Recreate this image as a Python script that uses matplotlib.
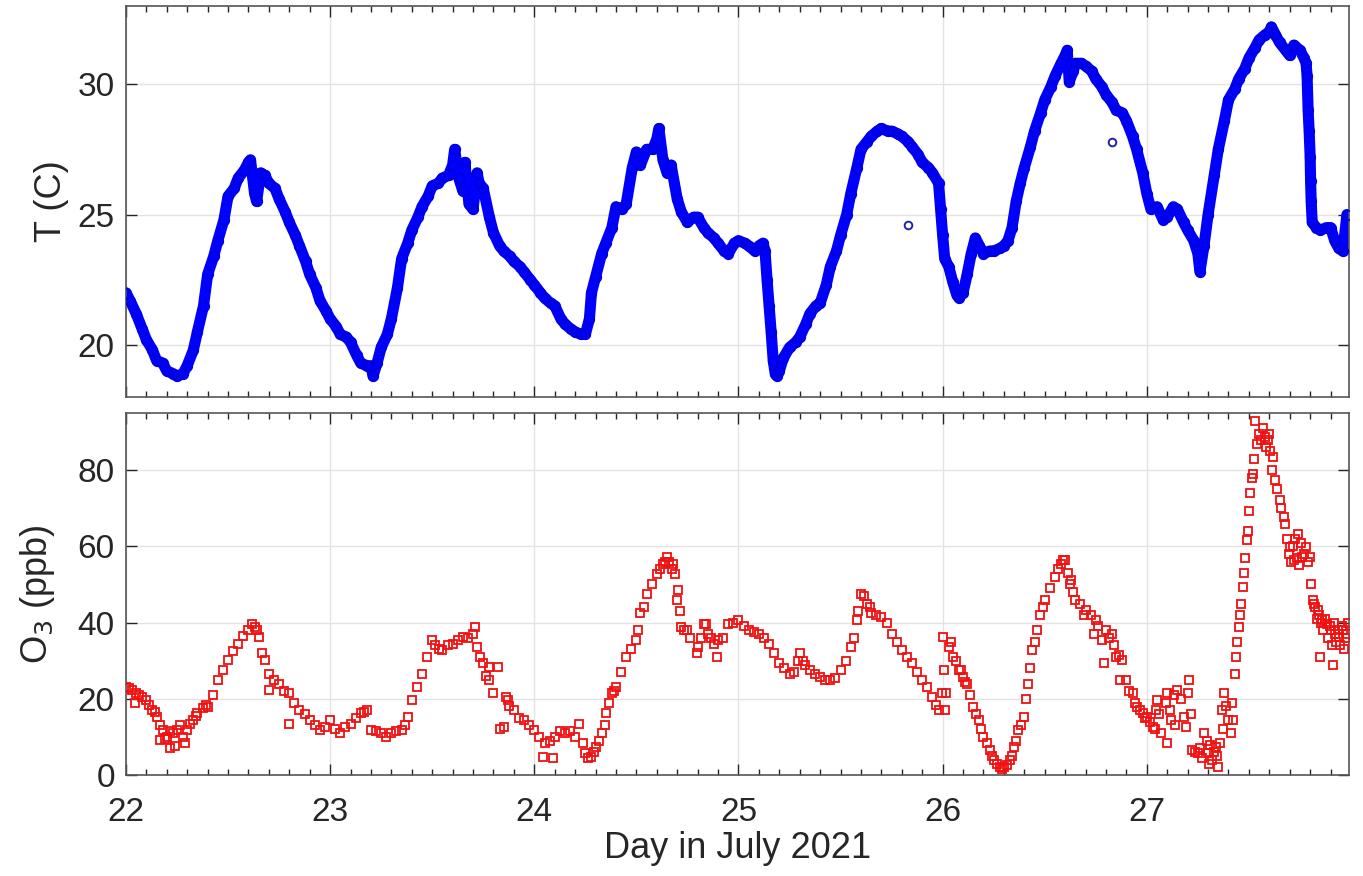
import numpy as np
import matplotlib.pyplot as plt
from matplotlib.ticker import MultipleLocator

# Temperature (C)
t_day = [22.00, 22.02, 22.05, 22.08, 22.10, 22.13, 22.15, 22.18, 22.20, 22.23,
         22.25, 22.28, 22.30, 22.33, 22.35, 22.38, 22.40, 22.43, 22.45, 22.48,
         22.50, 22.53, 22.55, 22.58, 22.60, 22.61, 22.63, 22.64, 22.66, 22.68,
         22.70, 22.73, 22.75, 22.78, 22.80, 22.83, 22.85, 22.88, 22.90, 22.93,
         22.95, 22.98, 23.00, 23.03, 23.05, 23.08, 23.10, 23.13, 23.15, 23.18,
         23.20, 23.21, 23.23, 23.25, 23.28, 23.30, 23.33, 23.35, 23.38, 23.40,
         23.43, 23.45, 23.48, 23.50, 23.53, 23.55, 23.58, 23.60, 23.61, 23.63,
         23.65, 23.66, 23.68, 23.70, 23.72, 23.73, 23.75, 23.78, 23.80, 23.83,
         23.85, 23.88, 23.90, 23.93, 23.95, 23.98,
         24.00, 24.03, 24.05, 24.08, 24.10, 24.13, 24.15, 24.18, 24.20, 24.23,
         24.25, 24.27, 24.28, 24.30, 24.33, 24.35, 24.38, 24.40, 24.43, 24.45,
         24.48, 24.50, 24.52, 24.55, 24.58, 24.60, 24.61, 24.63, 24.65, 24.67,
         24.70, 24.72, 24.75, 24.78, 24.80, 24.83, 24.85, 24.88, 24.90, 24.93,
         24.95, 24.98, 25.00, 25.03, 25.05, 25.08, 25.10, 25.12, 25.13, 25.14,
         25.15, 25.16, 25.17, 25.18, 25.19, 25.20, 25.22, 25.25, 25.28, 25.30,
         25.33, 25.35, 25.38, 25.40, 25.43, 25.45, 25.48, 25.50, 25.53, 25.55,
         25.58, 25.60, 25.63, 25.65, 25.68, 25.70, 25.73, 25.75, 25.78, 25.80,
         25.83, 25.85, 25.88, 25.90, 25.93, 25.95, 25.98, 25.99, 26.00,
         26.01, 26.03, 26.05, 26.07, 26.08, 26.10, 26.12, 26.14, 26.16, 26.18,
         26.20, 26.23, 26.25, 26.28, 26.30, 26.32, 26.34, 26.36, 26.38, 26.40,
         26.43, 26.45, 26.48, 26.50, 26.53, 26.55, 26.58, 26.60, 26.61, 26.62,
         26.64, 26.65, 26.68, 26.70, 26.73, 26.75, 26.78, 26.80, 26.83, 26.85,
         26.88, 26.90, 26.93, 26.95, 26.98, 27.00, 27.02, 27.05, 27.08, 27.10,
         27.13, 27.15, 27.18, 27.20, 27.23, 27.25, 27.26, 27.28, 27.30, 27.33,
         27.35, 27.38, 27.40, 27.43, 27.45, 27.48, 27.50, 27.53, 27.55, 27.58,
         27.60, 27.61, 27.63, 27.65, 27.68, 27.70, 27.72, 27.75, 27.77, 27.78,
         27.785, 27.79, 27.795, 27.80, 27.802, 27.805, 27.81, 27.83, 27.85, 27.88,
         27.90, 27.92, 27.94, 27.96, 27.98]
t_val = [22.0, 21.7, 21.2, 20.6, 20.2, 19.8, 19.4, 19.3, 19.0, 18.9,
         18.8, 18.9, 19.2, 19.8, 20.5, 21.5, 22.7, 23.4, 24.0, 24.8,
         25.7, 26.0, 26.4, 26.7, 27.0, 27.1, 25.8, 25.5, 26.6, 26.5,
         26.2, 26.0, 25.6, 25.1, 24.7, 24.2, 23.8, 23.2, 22.7, 22.2,
         21.7, 21.3, 21.0, 20.7, 20.4, 20.3, 20.1, 19.6, 19.3, 19.2,
         19.2, 18.8, 19.3, 19.9, 20.4, 21.0, 22.2, 23.3, 23.9, 24.4,
         24.9, 25.3, 25.7, 26.1, 26.2, 26.4, 26.5, 26.9, 27.5, 26.4,
         25.9, 27.0, 25.4, 25.2, 26.6, 26.2, 26.0, 24.9, 24.3, 23.8,
         23.6, 23.4, 23.2, 23.0, 22.8, 22.5,
         22.3, 22.0, 21.8, 21.6, 21.5, 21.0, 20.8, 20.6, 20.5, 20.4,
         20.4, 21.0, 22.0, 22.6, 23.5, 23.9, 24.5, 25.3, 25.2, 25.4,
         26.8, 27.4, 26.9, 27.5, 27.5, 27.9, 28.3, 27.1, 26.6, 26.9,
         25.6, 25.1, 24.7, 24.9, 24.9, 24.5, 24.3, 24.1, 23.9, 23.6,
         23.5, 23.9, 24.0, 23.9, 23.8, 23.6, 23.8, 23.9, 23.6, 22.5,
         21.5, 20.5, 19.4, 18.9, 18.8, 19.0, 19.5, 19.9, 20.1, 20.3,
         20.8, 21.2, 21.5, 21.6, 22.3, 23.0, 23.6, 24.2, 25.0, 25.8,
         26.8, 27.5, 27.8, 28.0, 28.2, 28.3, 28.2, 28.2, 28.1, 28.0,
         27.8, 27.6, 27.3, 27.0, 26.8, 26.6, 26.2, 25.2, 24.2,
         23.3, 23.0, 22.4, 21.9, 21.8, 22.0, 22.7, 23.5, 24.1, 23.8,
         23.5, 23.6, 23.6, 23.7, 23.8, 24.0, 24.5, 25.5, 26.2, 26.8,
         27.6, 28.2, 28.9, 29.4, 29.9, 30.3, 30.8, 31.1, 31.3, 30.1,
         30.5, 30.8, 30.8, 30.7, 30.5, 30.2, 29.9, 29.6, 29.3, 29.0,
         28.9, 28.6, 28.0, 27.5, 26.6, 25.8, 25.2, 25.3, 24.8, 24.9,
         25.3, 25.2, 24.7, 24.4, 24.0, 23.5, 22.8, 23.8, 25.0, 26.5,
         27.5, 28.6, 29.4, 29.8, 30.2, 30.6, 31.0, 31.4, 31.7, 31.9,
         32.0, 32.2, 31.9, 31.6, 31.3, 31.1, 31.5, 31.3, 31.0, 30.8,
         30.3, 29.0, 28.2, 27.2, 26.3, 25.5, 24.7, 24.5, 24.4, 24.5,
         24.5, 24.0, 23.7, 23.6, 25.0]

# isolated temperature readings
t_out_day = [25.83, 26.83]
t_out_val = [24.6, 27.8]

# Ozone (ppb)
o3_day = [22.00, 22.03, 22.05, 22.08, 22.10, 22.13, 22.15, 22.18, 22.20, 22.23,
          22.25, 22.28, 22.30, 22.33, 22.35, 22.40, 22.45, 22.50, 22.55, 22.60,
          22.63, 22.65, 22.68, 22.70, 22.75, 22.80, 22.85, 22.90, 22.95, 23.00,
          23.05, 23.10, 23.15, 23.18, 23.20, 23.25, 23.30, 23.35, 23.38, 23.40,
          23.45, 23.50, 23.55, 23.60, 23.65, 23.70, 23.72, 23.75, 23.78, 23.80,
          23.82, 23.85, 23.87, 23.90, 23.95,
          24.00, 24.05, 24.10, 24.15, 24.20, 24.22, 24.25, 24.28, 24.30, 24.33,
          24.35, 24.38, 24.40, 24.45, 24.50, 24.52, 24.55, 24.60, 24.63, 24.65,
          24.68, 24.70, 24.72, 24.75, 24.80, 24.83, 24.85, 24.88, 24.90, 24.95,
          25.00, 25.05, 25.10, 25.15, 25.20, 25.25, 25.30, 25.35, 25.40, 25.45,
          25.50, 25.55, 25.58, 25.60, 25.63, 25.65, 25.70, 25.75, 25.80, 25.85,
          25.90, 25.95, 25.98,
          26.00, 26.03, 26.05, 26.08, 26.10, 26.12, 26.15, 26.18, 26.20, 26.23,
          26.25, 26.28, 26.30, 26.33, 26.35, 26.37, 26.40, 26.42, 26.44, 26.46,
          26.50, 26.55, 26.58, 26.60, 26.63, 26.65, 26.70, 26.75, 26.78, 26.80,
          26.83, 26.85, 26.88, 26.90, 26.93, 26.95, 26.98, 27.00, 27.03, 27.05,
          27.07, 27.10, 27.12, 27.15, 27.18, 27.20, 27.22, 27.25, 27.28, 27.30,
          27.32, 27.34, 27.35, 27.36, 27.38, 27.40, 27.42, 27.43, 27.45, 27.47,
          27.49, 27.50, 27.52, 27.53, 27.54, 27.55, 27.58, 27.60, 27.62, 27.63,
          27.65, 27.67, 27.70, 27.72, 27.74, 27.76, 27.78, 27.80, 27.82, 27.84,
          27.85, 27.86, 27.88, 27.90, 27.91, 27.92, 27.94, 27.96, 27.98]
o3_val = [23.1, 22.3, 21.4, 20.5, 19.7, 17.0, 15.3, 11.8, 10.0, 10.9,
          11.8, 10.0, 11.8, 14.4, 16.2, 17.9, 24.9, 30.1, 34.5, 38.0,
          38.9, 36.2, 30.1, 26.6, 24.0, 21.4, 17.0, 14.4, 11.8, 14.4,
          10.9, 13.5, 16.2, 17.0, 11.8, 10.9, 10.9, 11.8, 15.3, 19.7,
          26.6, 35.4, 32.8, 34.5, 36.2, 37.1, 33.6, 29.3, 28.4, 21.4,
          28.4, 12.7, 19.7, 17.0, 14.4,
          11.8, 8.3, 10.0, 10.9, 10.0, 13.5, 5.7, 4.8, 7.4, 10.9,
          16.2, 21.4, 23.1, 31.0, 35.4, 42.4, 47.6, 52.8, 55.5, 57.2,
          55.5, 45.9, 38.9, 38.0, 33.6, 39.7, 37.1, 34.5, 35.4, 39.7,
          40.6, 38.0, 37.1, 34.5, 29.3, 26.6, 31.9, 27.5, 25.8, 24.9,
          27.5, 33.6, 40.6, 47.6, 45.0, 42.4, 41.5, 37.1, 32.8, 29.3,
          24.9, 20.5, 17.0,
          36.2, 33.6, 31.0, 27.5, 25.8, 24.0, 17.9, 14.4, 10.0, 6.6,
          3.9, 2.2, 2.2, 3.9, 7.4, 11.8, 15.3, 24.0, 32.8, 38.0,
          45.9, 52.0, 55.5, 56.3, 51.1, 45.9, 43.2, 40.6, 35.4, 38.0,
          37.1, 31.0, 30.1, 24.9, 21.4, 17.9, 16.2, 15.3, 12.7, 19.7,
          10.9, 21.4, 14.4, 22.3, 15.3, 21.4, 6.6, 5.7, 10.9, 5.7,
          3.9, 7.4, 2.2, 8.3, 21.4, 14.4, 14.4, 26.6, 38.9, 49.3,
          61.6, 69.4, 79.0, 92.8, 86.9, 89.5, 88.6, 89.5, 83.4, 77.3,
          72.1, 67.7, 59.8, 56.3, 63.3, 57.2, 59.8, 57.2, 45.0, 43.2,
          31.0, 40.6, 39.7, 38.0, 28.8, 37.1, 36.2, 38.0, 37.1]

# more ozone readings taken between the ones above
o3_day_b = [22.015, 22.044, 22.065, 22.115, 22.14, 22.165, 22.167, 22.19, 22.215, 22.216,
            22.24, 22.265, 22.29, 22.315, 22.345, 22.375, 22.39, 22.425, 22.475, 22.525,
            22.575, 22.615, 22.64, 22.665, 22.70, 22.725, 22.775, 22.80, 22.825, 22.875,
            22.925, 22.975, 23.025, 23.075, 23.125, 23.165, 23.225, 23.275, 23.325, 23.365,
            23.425, 23.475, 23.515, 23.535, 23.575, 23.625, 23.675, 23.71, 23.735, 23.765,
            23.78, 23.83, 23.86, 23.875, 23.925, 23.975,
            24.025, 24.044, 24.075, 24.09, 24.125, 24.175, 24.24, 24.265, 24.29, 24.315,
            24.345, 24.365, 24.39, 24.425, 24.475, 24.51, 24.535, 24.575, 24.615, 24.64,
            24.66, 24.675, 24.69, 24.706, 24.715, 24.735, 24.765, 24.796, 24.815, 24.84,
            24.865, 24.894, 24.925, 24.975, 25.025, 25.075, 25.125, 25.175, 25.225, 25.27,
            25.29, 25.315, 25.325, 25.375, 25.425, 25.475, 25.525, 25.565, 25.585, 25.615,
            25.645, 25.675, 25.725, 25.775, 25.825, 25.875, 25.925, 25.965, 25.997,
            26.005, 26.01, 26.015, 26.04, 26.065, 26.09, 26.11, 26.135, 26.165, 26.19,
            26.215, 26.24, 26.265, 26.29, 26.315, 26.34, 26.36, 26.385, 26.41, 26.43,
            26.45, 26.475, 26.49, 26.525, 26.565, 26.59, 26.615, 26.625, 26.64, 26.675,
            26.69, 26.725, 26.74, 26.76, 26.79, 26.815, 26.84, 26.865, 26.87, 26.915,
            26.94, 26.965, 26.99, 27.015, 27.04, 27.045, 27.06, 27.095, 27.10, 27.115,
            27.135, 27.14, 27.165, 27.19, 27.205, 27.215, 27.235, 27.26, 27.27, 27.295,
            27.305, 27.31, 27.33, 27.345, 27.37, 27.375, 27.39, 27.41, 27.415, 27.435,
            27.44, 27.455, 27.46, 27.475, 27.48, 27.495, 27.505, 27.515, 27.525, 27.56,
            27.57, 27.585, 27.595, 27.605, 27.615, 27.64, 27.655, 27.675, 27.685, 27.695,
            27.705, 27.715, 27.725, 27.735, 27.745, 27.755, 27.77, 27.79, 27.805, 27.815,
            27.825, 27.835, 27.845, 27.855, 27.865, 27.875, 27.885, 27.895, 27.905, 27.915,
            27.925, 27.935, 27.945, 27.955, 27.965, 27.975, 27.985]
o3_val_b = [22.8, 18.8, 21.0, 18.5, 16.5, 13.0, 9.2, 9.5, 11.5, 7.0,
            7.5, 13.0, 8.3, 13.5, 15.5, 17.5, 18.5, 21.0, 27.5, 32.5,
            36.5, 39.5, 38.0, 31.9, 22.3, 25.0, 22.0, 13.5, 19.0, 16.0,
            13.0, 12.5, 12.0, 12.5, 15.0, 16.5, 11.5, 10.0, 11.5, 13.0,
            23.0, 31.0, 34.0, 33.0, 34.0, 35.5, 36.0, 38.9, 31.0, 26.0,
            24.9, 12.2, 20.5, 18.0, 15.0, 13.0,
            10.0, 4.8, 9.0, 4.4, 11.5, 11.5, 8.5, 4.5, 6.0, 9.0,
            13.0, 19.0, 22.0, 27.0, 33.0, 38.0, 44.0, 50.0, 54.0, 56.0,
            56.0, 54.0, 52.8, 48.5, 43.0, 38.0, 36.0, 31.9, 36.0, 39.5,
            36.0, 31.0, 36.0, 40.0, 39.0, 37.5, 36.0, 32.0, 28.0, 27.0,
            30.0, 30.0, 29.0, 26.5, 25.0, 25.5, 30.0, 36.0, 43.0, 47.0,
            44.0, 42.0, 40.0, 35.0, 31.0, 27.0, 23.0, 18.5, 21.4,
            27.5, 17.0, 21.4, 35.0, 30.0, 27.5, 24.5, 21.0, 16.0, 12.0,
            8.5, 5.0, 3.0, 1.5, 2.5, 5.0, 9.0, 13.0, 20.0, 28.0,
            35.0, 42.0, 44.0, 49.0, 54.0, 56.5, 53.0, 50.0, 48.0, 45.0,
            42.0, 42.0, 37.0, 39.0, 29.3, 36.0, 34.0, 31.5, 24.9, 22.0,
            19.0, 17.0, 15.0, 14.0, 12.0, 17.0, 16.0, 19.0, 8.3, 17.0,
            21.0, 13.0, 20.0, 12.5, 24.9, 16.0, 6.0, 7.0, 4.5, 9.0,
            3.0, 8.0, 6.0, 5.0, 17.0, 12.0, 18.0, 11.0, 19.0, 31.0,
            35.0, 42.0, 45.0, 53.0, 57.0, 64.0, 74.0, 78.0, 83.0, 88.0,
            91.0, 86.0, 88.0, 85.0, 80.0, 75.0, 70.0, 66.0, 62.0, 58.0,
            56.0, 60.0, 62.0, 57.0, 55.0, 61.0, 58.0, 56.0, 50.0, 46.0,
            44.0, 41.0, 42.0, 40.0, 38.0, 41.0, 36.0, 39.0, 34.0, 40.0,
            35.0, 38.0, 34.0, 39.0, 33.0, 36.0, 40.0]

x_ticks = [22, 23, 24, 25, 26, 27]

plt.rcParams['font.family'] = ['Liberation Sans', 'DejaVu Sans']
ink = '#262626'

fig = plt.figure(figsize=(13.63, 8.76), dpi=100)
ax1 = fig.add_axes([0.0924, 0.5468, 0.8973, 0.4464])
ax2 = fig.add_axes([0.0924, 0.1153, 0.8973, 0.4132])

# temperature: dense circle markers forming a band
ax1.plot(t_day, t_val, '-', color='#0000ff', lw=8, solid_capstyle='round',
         solid_joinstyle='round', zorder=2)
ax1.plot(t_day, t_val, 'o', mfc='none', mec='#0000dd', ms=7, mew=1.1, zorder=3)
ax1.plot(t_out_day, t_out_val, 'o', mfc='none', mec='#2222aa', ms=5.5, mew=1.4, zorder=3)

# ozone: open squares
ax2.plot(o3_day + o3_day_b, o3_val + o3_val_b, 's', mfc='none', mec='#f01010',
         ms=6.3, mew=1.3, zorder=3)

ax1.set_xlim(22, 27.99)
ax2.set_xlim(22, 27.99)
ax1.set_ylim(18, 33)
ax2.set_ylim(0, 95)
ax1.set_yticks([20, 25, 30])
ax2.set_yticks([0, 20, 40, 60, 80])
for ax in (ax1, ax2):
    ax.set_xticks(x_ticks)
    ax.xaxis.set_minor_locator(MultipleLocator(0.1))
    ax.grid(True, which='major', color='#e3e3e3', lw=1.0, zorder=0)
    ax.set_axisbelow(True)
    ax.tick_params(which='both', direction='in', top=True, right=True,
                   labelsize=24, colors=ink, width=1.0)
    ax.tick_params(which='major', length=8)
    ax.tick_params(which='minor', length=4, left=False, right=False)
    ax.tick_params(axis='y', pad=8)
    ax.tick_params(axis='x', pad=16)
    for s in ax.spines.values():
        s.set_color('#555555')
        s.set_linewidth(1.2)

ax1.set_xticklabels([])
ax2.set_xticklabels([str(t) for t in x_ticks])
ax1.set_ylabel('T (C)', fontsize=26, color=ink, labelpad=6)
ax2.set_ylabel('O$_3$ (ppb)', fontsize=26, color=ink, labelpad=15)
ax2.set_xlabel('Day in July 2021', fontsize=26, color=ink, labelpad=2)

fig.savefig('out.png', dpi=100)
